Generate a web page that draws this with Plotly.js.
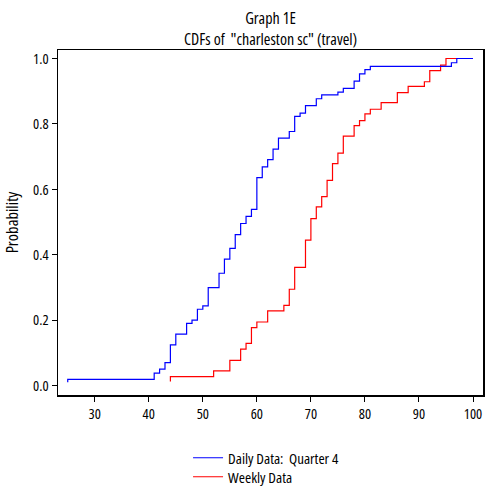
<!DOCTYPE html>
<html>
<head>
<meta charset="utf-8">
<script src="https://cdn.plot.ly/plotly-3.0.1.min.js"></script>
<style>html,body{margin:0;padding:0;background:#fff;}#chart{width:490px;height:496px;}
svg text{font-stretch:75% !important;}</style>
</head>
<body>
<div id="chart"></div>
<script>
// Daily data: Quarter 4 (empirical CDF steps)
var dailyX = [25, 25, 41, 42, 43, 44, 45, 47, 48, 49, 50, 51, 53, 54, 55, 56, 57, 58, 59, 60, 61, 62, 63, 64, 66, 67, 68, 69, 71, 72, 75, 76, 78, 79, 80, 81, 96, 97, 100];
var dailyY = [0.011, 0.02, 0.039, 0.051, 0.071, 0.125, 0.158, 0.191, 0.201, 0.234, 0.244, 0.300, 0.344, 0.387, 0.42, 0.462, 0.496, 0.518, 0.539, 0.636, 0.669, 0.691, 0.723, 0.757, 0.777, 0.823, 0.833, 0.856, 0.877, 0.889, 0.897, 0.909, 0.931, 0.953, 0.966, 0.976, 0.987, 1.0, 1.0];
// Weekly data
var weeklyX = [44, 44, 52, 55, 57, 58, 59, 60, 62, 65, 66, 67, 69, 70, 71, 72, 73, 74, 75, 76, 78, 79, 80, 81, 83, 86, 88, 91, 92, 94, 95, 100];
var weeklyY = [0.013, 0.028, 0.046, 0.078, 0.112, 0.130, 0.178, 0.195, 0.229, 0.246, 0.295, 0.362, 0.445, 0.511, 0.547, 0.578, 0.628, 0.679, 0.711, 0.763, 0.795, 0.810, 0.831, 0.845, 0.865, 0.896, 0.915, 0.929, 0.963, 0.980, 1.0, 1.0];
var seriesNames = ["Daily Data:\u00a0 Quarter 4", "Weekly Data"];
var xTicks = [30, 40, 50, 60, 70, 80, 90, 100];
var yTicks = [0.0, 0.2, 0.4, 0.6, 0.8, 1.0];
var yTickLabels = ["0.0", "0.2", "0.4", "0.6", "0.8", "1.0"];

var FONT = "Open Sans";

var traces = [
  {x: weeklyX, y: weeklyY, name: seriesNames[1], type: 'scatter', mode: 'lines', legend: 'legend2',
   line: {shape: 'hv', color: '#ff0000', width: 1.2}},
  {x: dailyX, y: dailyY, name: seriesNames[0], type: 'scatter', mode: 'lines', legend: 'legend',
   line: {shape: 'hv', color: '#0000ff', width: 1.2}}
];

var legendBase = {x: 0.306, xanchor: 'left', yanchor: 'middle', yref: 'container', orientation: 'v', itemwidth: 30,
                  bgcolor: 'rgba(0,0,0,0)', font: {family: FONT, size: 15, color: '#000'}};

var layout = {
  width: 490, height: 496,
  margin: {l: 58, r: 7, t: 50, b: 101, pad: 0},
  paper_bgcolor: '#fff', plot_bgcolor: '#fff',
  font: {family: FONT, size: 15, color: '#000'},
  title: {text: 'Graph 1E', x: 0.5, xref: 'paper', xanchor: 'center', y: 1 - 18/496, yref: 'container', yanchor: 'middle',
          font: {family: FONT, size: 16, color: '#000'}},
  annotations: [{text: 'CDFs of \u00a0"charleston sc" (travel)', xref: 'paper', yref: 'paper', x: 0.5, y: 1 + (50-39)/345,
                 xanchor: 'center', yanchor: 'middle', showarrow: false, font: {family: FONT, size: 16, color: '#000'}}],
  xaxis: {range: [23.2, 101.85], tickvals: xTicks, ticktext: xTicks.map(String), ticks: 'outside', ticklen: 5, tickwidth: 1,
          tickcolor: '#000', showline: true, linecolor: '#000', linewidth: 1.5, mirror: true, showgrid: false, zeroline: false,
          tickfont: {family: FONT, size: 14.5}},
  yaxis: {range: [-0.028, 1.026], tickvals: yTicks, ticktext: yTickLabels, ticks: 'outside', ticklen: 5, tickwidth: 1,
          tickcolor: '#000', showline: true, linecolor: '#000', linewidth: 1.5, mirror: true, showgrid: false, zeroline: false,
          tickfont: {family: FONT, size: 14.5},
          title: {text: 'Probability', font: {family: FONT, size: 16.5}, standoff: 10}},
  showlegend: true,
  legend: Object.assign({}, legendBase, {y: 1 - 458 / 496}),
  legend2: Object.assign({}, legendBase, {y: 1 - 477 / 496})
};

Plotly.newPlot('chart', traces, layout, {displayModeBar: false, staticPlot: true});
</script>
</body>
</html>
